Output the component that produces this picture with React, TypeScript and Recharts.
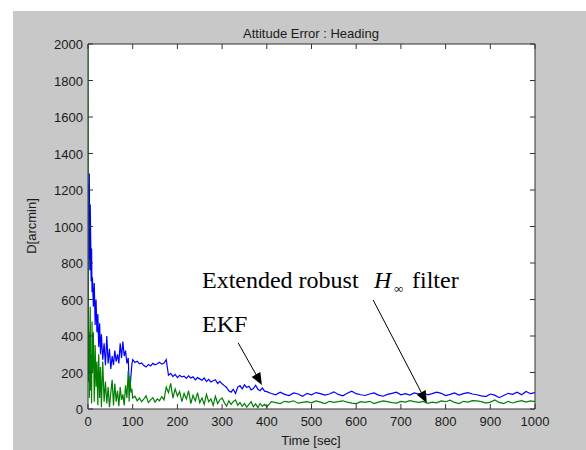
import { LineChart, Line, XAxis, YAxis, CartesianGrid, ReferenceLine, ReferenceDot } from "recharts";

// sample times in seconds (denser at the start where the error moves fast)
const times = [
  0, 1, 2, 3, 4, 5, 6, 7, 8, 9,
  10, 12, 14, 16, 18, 20, 22, 24, 26, 28,
  30, 33, 36, 39, 42, 45, 48, 51, 54, 57,
  60, 63, 66, 69, 72, 75, 78, 81, 84, 87,
  90, 92, 94, 96, 98, 100,
  105, 110, 115, 120, 125, 130, 135, 140, 145, 150,
  155, 160, 165, 170, 175, 180, 185, 190, 195, 200,
  205, 210, 215, 220, 225, 230, 235, 240, 245, 250,
  255, 260, 265, 270, 275, 280, 285, 290, 295, 300,
  305, 310, 315, 320, 325, 330, 335, 340, 345, 350,
  355, 360, 365, 370, 375, 380, 385, 390, 395, 400,
  410, 420, 430, 440, 450, 460, 470, 480, 490, 500,
  510, 520, 530, 540, 550, 560, 570, 580, 590, 600,
  610, 620, 630, 640, 650, 660, 670, 680, 690, 700,
  710, 720, 730, 740, 750, 760, 770, 780, 790, 800,
  810, 820, 830, 840, 850, 860, 870, 880, 890, 900,
  910, 920, 930, 940, 950, 960, 970, 980, 990, 1000,
];

// EKF heading error [arcmin] (blue)
const ekf = [
  1050, 1230, 820, 1290, 760, 1120, 940, 700, 880, 640,
  720, 560, 690, 460, 600, 420, 520, 340, 470, 300,
  410, 270, 360, 240, 400, 250, 330, 220, 290, 240,
  320, 260, 300, 250, 360, 280, 370, 290, 320, 250,
  280, 140, 110, 180, 240, 270,
  255, 262, 248, 252, 238, 230, 244, 236, 250, 242,
  248, 256, 246, 252, 270, 185, 195, 178, 190, 172,
  185, 176, 180, 168, 182, 170, 176, 160, 172, 165,
  158, 170, 150, 162, 148, 155, 160, 140, 152, 138,
  128, 118, 100, 92, 108, 85, 120, 128, 110, 132,
  118, 125, 105, 112, 130, 108, 100, 115, 98, 95,
  85, 78, 92, 80, 74, 88, 82, 70, 86, 78,
  90, 84, 76, 82, 94, 80, 72, 86, 98, 84,
  78, 74, 82, 88, 76, 70, 80, 86, 92, 78,
  84, 76, 88, 82, 90, 78, 84, 92, 86, 74,
  80, 88, 76, 84, 90, 82, 78, 72, 68, 82,
  76, 62, 74, 86, 80, 92, 78, 96, 84, 90,
];

// extended robust H-infinity filter heading error [arcmin] (green)
const robustHinf = [
  2000, 150, 420, 60, 380, 560, 100, 300, 30, 480,
  200, 420, 40, 350, 120, 260, 20, 300, 60, 230,
  10, 260, 40, 150, 30, 120, 10, 90, 160, 20,
  140, 40, 100, 15, 120, 50, 80, 20, 130, 60,
  210, 40, 180, 90, 110, 60,
  70, 45, 60, 40, 55, 72, 35, 50, 62, 38,
  55, 45, 68, 50, 120, 90, 140, 60, 110, 70,
  95, 40, 85, 55, 100, 30, 75, 45, 90, 35,
  60, 25, 80, 40, 55, 20, 70, 30, 50, 60,
  35, 15, 45, 25, 40, 50, 20, 35, 15, 30,
  10, 25, 40, 12, 28, 8, 30, 15, 25, 10,
  40, 35, 30, 42, 38, 45, 32, 36, 40, 34,
  44, 38, 30, 42, 36, 40, 45, 38, 32, 30,
  40, 36, 42, 30, 38, 44, 40, 35, 32, 42,
  38, 46, 40, 36, 42, 31, 38, 34, 44, 40,
  48, 36, 30, 42, 38, 46, 44, 40, 32, 38,
  50, 36, 30, 42, 33, 40, 46, 38, 44, 40,
];

const xTicks = [0, 100, 200, 300, 400, 500, 600, 700, 800, 900, 1000];
const yTicks = [0, 200, 400, 600, 800, 1000, 1200, 1400, 1600, 1800, 2000];

const data = times.map((t, i) => ({ t, ekf: ekf[i], hinf: robustHinf[i] }));

const AX_FONT = '"Liberation Sans Narrow", "Liberation Sans", Arial, sans-serif';
const SERIF = '"Liberation Serif", "Times New Roman", serif';
const AXIS_COLOR = "#333";

const tickText = { fontFamily: AX_FONT, fontSize: 13, fill: "#1a1a1a" };

function BottomTick(props: any) {
  const { x, y, payload } = props;
  return (
    <g>
      <line x1={x} x2={x} y1={y} y2={y - 5} stroke={AXIS_COLOR} />
      <text x={x} y={y + 17} textAnchor="middle" {...tickText}>{payload.value}</text>
    </g>
  );
}

function LeftTick(props: any) {
  const { x, y, payload } = props;
  return (
    <g>
      <line x1={x} x2={x + 5} y1={y} y2={y} stroke={AXIS_COLOR} />
      <text x={x - 5} y={y + 5} textAnchor="end" {...tickText}>{payload.value}</text>
    </g>
  );
}

function TopTick(props: any) {
  const { x, y } = props;
  return <line x1={x} x2={x} y1={y} y2={y + 5} stroke={AXIS_COLOR} />;
}

function RightTick(props: any) {
  const { x, y } = props;
  return <line x1={x} x2={x - 5} y1={y} y2={y} stroke={AXIS_COLOR} />;
}

// thin line with a filled arrow head at the end point
function Arrow(props: any) {
  const { x1, y1, x2, y2 } = props;
  const dx = x2 - x1;
  const dy = y2 - y1;
  const len = Math.sqrt(dx * dx + dy * dy) || 1;
  const ux = dx / len;
  const uy = dy / len;
  const hl = 12;
  const hw = 5;
  const bx = x2 - ux * hl;
  const by = y2 - uy * hl;
  const pts = `${x2},${y2} ${bx - uy * hw},${by + ux * hw} ${bx + uy * hw},${by - ux * hw}`;
  return (
    <g>
      <line x1={x1} y1={y1} x2={bx} y2={by} stroke="#000" strokeWidth={1} />
      <polygon points={pts} fill="#000" />
    </g>
  );
}

export default function App() {
  return (
    <div style={{ position: "absolute", left: 0, top: 0, width: 586, height: 450, background: "#fff", overflow: "hidden" }}>
      <div style={{ position: "absolute", left: 13, top: 11, right: 0, bottom: 0, background: "#c8c8c8" }} />

      <div style={{ position: "absolute", left: 0, top: 0 }}>
        {/* plot box: x 88..535, y 44..409 */}
        <LineChart width={586} height={450} data={data} margin={{ top: 34, right: 41, bottom: 21, left: 48 }}>
          <CartesianGrid fill="#fff" horizontal={false} vertical={false} />
          <XAxis
            dataKey="t"
            type="number"
            domain={[0, 1000]}
            ticks={xTicks}
            interval={0}
            height={20}
            tickSize={0}
            tickMargin={0}
            tickLine={false}
            axisLine={{ stroke: AXIS_COLOR }}
            tick={<BottomTick />}
            allowDataOverflow
          />
          <XAxis
            xAxisId="top"
            orientation="top"
            dataKey="t"
            type="number"
            domain={[0, 1000]}
            ticks={xTicks}
            interval={0}
            height={10}
            tickSize={0}
            tickMargin={0}
            tickLine={false}
            axisLine={{ stroke: AXIS_COLOR }}
            tick={<TopTick />}
            allowDataOverflow
          />
          <YAxis
            type="number"
            domain={[0, 2000]}
            ticks={yTicks}
            interval={0}
            width={40}
            tickSize={0}
            tickMargin={0}
            tickLine={false}
            axisLine={{ stroke: AXIS_COLOR }}
            tick={<LeftTick />}
            allowDataOverflow
          />
          <YAxis
            yAxisId="right"
            orientation="right"
            type="number"
            domain={[0, 2000]}
            ticks={yTicks}
            interval={0}
            width={10}
            tickSize={0}
            tickMargin={0}
            tickLine={false}
            axisLine={{ stroke: AXIS_COLOR }}
            tick={<RightTick />}
            allowDataOverflow
          />

          <Line type="linear" dataKey="ekf" stroke="#0000ff" strokeWidth={1.2} dot={false} isAnimationActive={false} />
          <Line type="linear" dataKey="hinf" stroke="#008000" strokeWidth={1.2} dot={false} isAnimationActive={false} />

          <ReferenceLine segment={[{ x: 336, y: 362 }, { x: 389, y: 132 }]} ifOverflow="visible" shape={<Arrow />} />
          <ReferenceLine segment={[{ x: 638, y: 597 }, { x: 758, y: 33 }]} ifOverflow="visible" shape={<Arrow />} />

          <ReferenceDot
            x={255}
            y={663}
            r={0}
            ifOverflow="visible"
            shape={(p: any) => (
              <text x={p.cx} y={p.cy} fontFamily={SERIF} fontSize={24} fill="#000">
                <tspan>Extended robust</tspan>
                <tspan x={p.cx + 172} fontStyle="italic">H</tspan>
                <tspan x={p.cx + 192} dy={5} fontSize={13}>∞</tspan>
                <tspan x={p.cx + 210} dy={-5}>filter</tspan>
              </text>
            )}
          />
          <ReferenceDot
            x={255}
            y={422}
            r={0}
            ifOverflow="visible"
            shape={(p: any) => (
              <text x={p.cx} y={p.cy} fontFamily={SERIF} fontSize={24} fill="#000">EKF</text>
            )}
          />
        </LineChart>
      </div>

      <svg width={586} height={450} style={{ position: "absolute", left: 0, top: 0, pointerEvents: "none" }}>
        <text x={311} y={38} textAnchor="middle" fontFamily={AX_FONT} fontSize={13} fill="#1a1a1a">
          Attitude Error : Heading
        </text>
        <text x={311} y={445} textAnchor="middle" fontFamily={AX_FONT} fontSize={13} fill="#1a1a1a">
          Time [sec]
        </text>
        <text
          x={0}
          y={0}
          transform="translate(36, 226) rotate(-90)"
          textAnchor="middle"
          fontFamily={AX_FONT}
          fontSize={13}
          fill="#1a1a1a"
        >
          D[arcmin]
        </text>
      </svg>
    </div>
  );
}
